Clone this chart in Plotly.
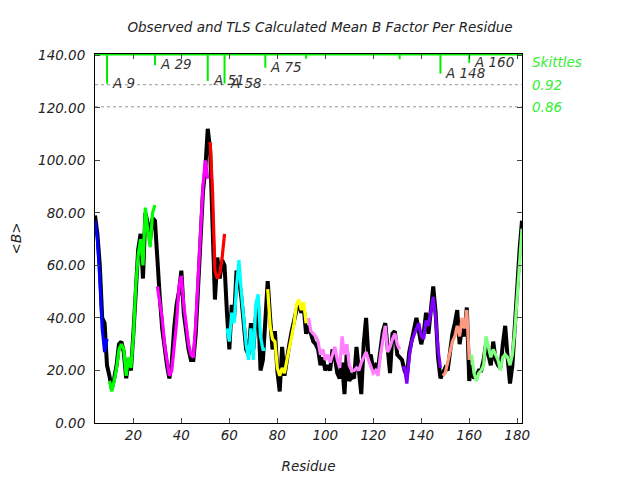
import plotly.graph_objects as go

# ---------------- data ----------------
residues = list(range(4, 183))

observed_b = [
    79, 72, 60, 40, 38, 22,
    18, 13, 17, 22, 30, 31, 27, 17, 24, 20, 34, 50, 66, 72, 55, 80, 76, 70, 78, 77,
    60, 48, 36, 28, 22, 17, 23, 36, 45, 50, 58, 42, 34, 28, 24, 24, 34, 54, 70, 88, 97, 112,
    104, 80, 47, 63, 55, 62, 60,
    42, 28, 45, 40, 58, 55, 48, 36, 28, 26, 38, 28, 40, 45, 20, 24, 37,
    54, 40, 28, 35, 20, 12, 29, 18, 25, 30, 35, 40, 43, 46, 42, 44, 34,
    37, 34, 31, 30, 28, 22, 25, 20, 22, 20, 28, 25, 19, 17, 23, 11, 28, 16, 18, 17,
    29, 20, 11, 30, 40, 25, 26, 20, 22, 21, 29, 35, 38, 30, 19, 34, 35, 26, 25,
    24, 20, 18, 27, 32, 36, 40, 35, 30, 34, 42, 34, 45, 52, 42, 25, 17,
    19, 21, 20, 28, 34, 38, 43, 30, 36, 33, 44, 16,
    22, 17, 18, 20, 20, 24, 30, 26, 22, 31, 24, 22, 21, 30, 37, 25, 15, 22, 38, 50, 66, 77,
]

# TLS-calculated mean B, one list per TLS group
tls_group_ranges = [(4, 9), (10, 29), (30, 51), (52, 58), (59, 75),
                    (76, 92), (93, 131), (132, 148), (149, 160), (161, 182)]
tls_group_colors = ["#0000FF", "#00FF00", "#FF00FF", "#FF0000", "#00FFFF",
                    "#FFFF00", "#FF80FF", "#8000FF", "#FF9980", "#80FF80"]
tls_values = [
    [77, 70, 55, 36, 27, 32],
    [16, 12, 16, 21, 28, 30, 28, 18, 25, 21, 33, 52, 64, 70, 60, 82, 73, 67, 80, 83],
    [52, 45, 40, 30, 24, 18, 20, 30, 38, 52, 56, 45, 37, 30, 26, 25, 38, 56, 70, 90, 100, 93],
    [107, 88, 58, 55, 57, 63, 72],
    [36, 31, 42, 38, 52, 62, 50, 38, 30, 24, 36, 24, 45, 49, 33, 28, 28],
    [51, 37, 32, 31, 21, 18, 21, 19, 24, 28, 33, 38, 45, 47, 43, 46, 38],
    [40, 35, 34, 33, 31, 26, 28, 24, 26, 23, 26, 29, 24, 21, 33, 26, 30, 22, 20, 20,
     21, 20, 23, 25, 27, 24, 21, 19, 20, 18, 26, 32, 37, 27, 29, 32, 34, 30, 28],
    [21, 21, 15, 25, 31, 34, 36, 38, 33, 32, 39, 37, 42, 48, 40, 28, 21],
    [18, 19, 23, 27, 31, 33, 37, 33, 40, 36, 43, 24],
    [26, 19, 16, 19, 20, 22, 33, 29, 25, 28, 26, 24, 20, 25, 26, 25, 22, 26, 35, 47, 62, 74],
]

# "Skittles" segmentation markers at top
skittle_res = [9, 29, 51, 58, 75, 92, 131, 148, 160]
skittle_bottom = [129.2, 136.2, 130.2, 129.2, 135.3, 138.7, 138.5, 133.0, 137.1]
skittle_labels = ["A 9", "A 29", "A 51", "A 58", "A 75", "", "", "A 148", "A 160"]
skittle_levels = [128.8, 120.4]
skittle_level_labels = ["0.92", "0.86"]

x_ticks = [20, 40, 60, 80, 100, 120, 140, 160, 180]
y_ticks = [0, 20, 40, 60, 80, 100, 120, 140]

FONT = "DejaVu Sans"
fig = go.Figure()

# observed (black)
fig.add_trace(go.Scatter(x=residues, y=observed_b, mode="lines",
                         line=dict(color="black", width=4), showlegend=False,
                         hoverinfo="skip"))

# TLS calculated, per group
for (a, b), col, vals in zip(tls_group_ranges, tls_group_colors, tls_values):
    fig.add_trace(go.Scatter(x=list(range(a, b + 1)), y=vals, mode="lines",
                             line=dict(color=col, width=3.2), showlegend=False,
                             hoverinfo="skip"))

# dotted skittle level lines
for lv in skittle_levels:
    fig.add_trace(go.Scatter(x=[4, 182], y=[lv, lv], mode="lines",
                             line=dict(color="#999999", width=1, dash="dot"),
                             showlegend=False, hoverinfo="skip"))

# green top line
fig.add_trace(go.Scatter(x=[4, 182], y=[140.3, 140.3], mode="lines",
                         line=dict(color="#00EE00", width=2),
                         showlegend=False, hoverinfo="skip"))

# green markers
for r, bt, lab in zip(skittle_res, skittle_bottom, skittle_labels):
    fig.add_trace(go.Scatter(x=[r, r], y=[140.3, bt], mode="lines",
                             line=dict(color="#00EE00", width=2),
                             showlegend=False, hoverinfo="skip"))
    if lab:
        fig.add_annotation(x=r, y=bt, text=lab, showarrow=False,
                           xanchor="left", yanchor="middle", xshift=3, yshift=1,
                           font=dict(family=FONT, size=13.5, color="#333333",
                                     style="italic"))

# right side labels
fig.add_annotation(xref="paper", yref="y", x=1, y=137.5, text="Skittles",
                   showarrow=False, xanchor="left", yanchor="middle", xshift=8,
                   font=dict(family=FONT, size=13.5, color="#33EE33", style="italic"))
for lv, lab in zip(skittle_levels, skittle_level_labels):
    fig.add_annotation(xref="paper", yref="y", x=1, y=lv, text=lab,
                       showarrow=False, xanchor="left", yanchor="middle", xshift=8,
                       font=dict(family=FONT, size=13.5, color="#33EE33", style="italic"))

axis_font = dict(family=FONT, size=13.5, color="#222222", style="italic")
# page body has an 8px margin: figure is shrunk/shifted to compensate
W, H = 632, 472
fig.update_layout(
    width=W, height=H,
    margin=dict(l=87, r=118, t=46, b=57, autoexpand=False),
    paper_bgcolor="white", plot_bgcolor="white",
    title=dict(text="Observed and TLS Calculated Mean B Factor Per Residue",
               x=(320 - 8) / W, xref="container", xanchor="center",
               y=1 - 19 / H, yref="container", yanchor="middle", font=axis_font),
    xaxis=dict(range=[4, 182], tickvals=x_ticks, ticks="inside", ticklen=5,
               showline=True, linecolor="black", linewidth=1, mirror="ticks",
               showgrid=False, zeroline=False, tickfont=axis_font, automargin=False,
               title=dict(text="Residue", font=axis_font, standoff=19)),
    yaxis=dict(range=[0, 140.5], tickvals=y_ticks, tickformat=".2f",
               ticks="inside", ticklen=5, showline=True, linecolor="black",
               linewidth=1, mirror="ticks", showgrid=False, zeroline=False,
               tickfont=axis_font, ticklabelstandoff=6, automargin=False,
               title=dict(text="&lt;B&gt;", font=axis_font, standoff=24)),
)

fig.write_html("out.html")
